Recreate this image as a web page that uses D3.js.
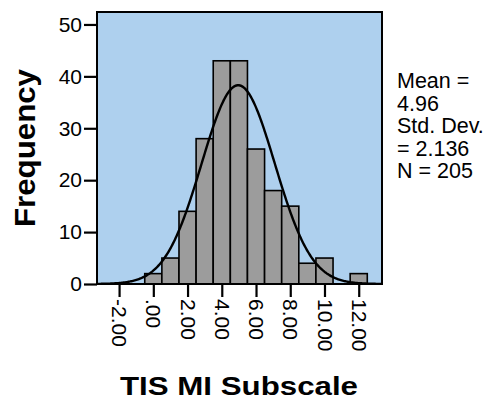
<!DOCTYPE html>
<html>
<head>
<meta charset="utf-8">
<script src="https://cdn.jsdelivr.net/npm/d3@7"></script>
<style>
  body { margin: 0; background: #fff; }
  text { font-family: 'Liberation Sans', Arial, sans-serif; }
</style>
</head>
<body>
<svg width="501" height="404"></svg>
<script>
// histogram bins (centered on integers) and counts
const binCenters = [0, 1, 2, 3, 4, 5, 6, 7, 8, 9, 10, 11, 12]
const counts = [2, 5, 14, 28, 43, 43, 26, 18, 15, 4, 5, 0, 2]
const xTicks = [-2, 0, 2, 4, 6, 8, 10, 12]
const yTicks = [0, 10, 20, 30, 40, 50]
const statLines = ['Mean =', '4.96', 'Std. Dev.', '= 2.136', 'N = 205']
const mean = 4.96
const sd = 2.136
const n = 205

const svg = d3.select('svg')
const margin = { top: 12, right: 119, bottom: 120, left: 97 }
const width = +svg.attr('width')
const height = +svg.attr('height')
const innerWidth = width - margin.left - margin.right
const innerHeight = height - margin.top - margin.bottom

const xScale = d3.scaleLinear()
  .domain([-3.29, 13.36])
  .range([0, innerWidth])

const yScale = d3.scaleLinear()
  .domain([0, 52.4])
  .range([innerHeight, 0])

const g = svg.append('g')
  .attr('transform', `translate(${margin.left}, ${margin.top})`)

g.append('rect')
  .attr('width', innerWidth)
  .attr('height', innerHeight)
  .attr('fill', '#aed0ee')

g.selectAll('rect.bar').data(binCenters)
  .enter().append('rect')
  .attr('class', 'bar')
  .attr('x', (d) => xScale(d - 0.5))
  .attr('width', xScale(1) - xScale(0))
  .attr('y', (d, i) => yScale(counts[i]))
  .attr('height', (d, i) => innerHeight - yScale(counts[i]))
  .attr('fill', '#9c9c9c')
  .attr('stroke', '#000')
  .attr('stroke-width', 1.6)
  .attr('display', (d, i) => counts[i] > 0 ? null : 'none')

// normal curve scaled to counts (bin width 1)
const curveXs = d3.range(-3.29, 13.36, 0.05)
const normal = x => n / (sd * Math.sqrt(2 * Math.PI)) * Math.exp(-0.5 * ((x - mean) / sd) ** 2)
g.append('path')
  .datum(curveXs)
  .attr('fill', 'none')
  .attr('stroke', '#000')
  .attr('stroke-width', 2.4)
  .attr('d', d3.line().x(d => xScale(d)).y(d => yScale(normal(d))))

g.append('rect')
  .attr('width', innerWidth)
  .attr('height', innerHeight)
  .attr('fill', 'none')
  .attr('stroke', '#000')
  .attr('stroke-width', 2)

const yAxisGroup = g.append('g')
  .call(d3.axisLeft(yScale).tickValues(yTicks).tickSize(13).tickPadding(2).tickFormat(d3.format('d')))
yAxisGroup.select('.domain').remove()
yAxisGroup.selectAll('.tick line').attr('stroke-width', 2.2)
yAxisGroup.selectAll('.tick text')
  .attr('font-size', 21)
  .attr('fill', '#000')
  .attr('font-family', "'Liberation Sans', Arial, sans-serif")

// SPSS style labels: ".00", "-2.00" with a plain hyphen
const fmt = d => d === 0 ? '.00' : (d < 0 ? '-' : '') + Math.abs(d).toFixed(2)
const xAxisGroup = g.append('g')
  .attr('transform', `translate(0, ${innerHeight})`)
  .call(d3.axisBottom(xScale).tickValues(xTicks).tickSize(13).tickFormat(fmt))
xAxisGroup.select('.domain').remove()
xAxisGroup.selectAll('.tick line').attr('stroke-width', 2.2)
xAxisGroup.selectAll('.tick text')
  .attr('font-size', 21)
  .attr('fill', '#000')
  .attr('font-family', "'Liberation Sans', Arial, sans-serif")
  .attr('text-anchor', 'start')
  .attr('dy', '0.35em')
  .attr('y', 0)
  .attr('transform', 'translate(0, 15) rotate(90)')

svg.append('text')
  .attr('transform', 'translate(35, 148) rotate(-90)')
  .attr('text-anchor', 'middle')
  .attr('font-size', 29)
  .attr('font-weight', 'bold')
  .attr('textLength', 158)
  .attr('lengthAdjust', 'spacingAndGlyphs')
  .text('Frequency')

svg.append('text')
  .attr('x', 239)
  .attr('y', 395)
  .attr('text-anchor', 'middle')
  .attr('font-size', 26)
  .attr('font-weight', 'bold')
  .attr('textLength', 238)
  .attr('lengthAdjust', 'spacingAndGlyphs')
  .text('TIS MI Subscale')

svg.selectAll('text.stat').data(statLines)
  .enter().append('text')
  .attr('class', 'stat')
  .attr('x', 397)
  .attr('y', (d, i) => 88 + i * 22.5)
  .attr('font-size', 21.5)
  .text(d => d)
</script>
</body>
</html>
